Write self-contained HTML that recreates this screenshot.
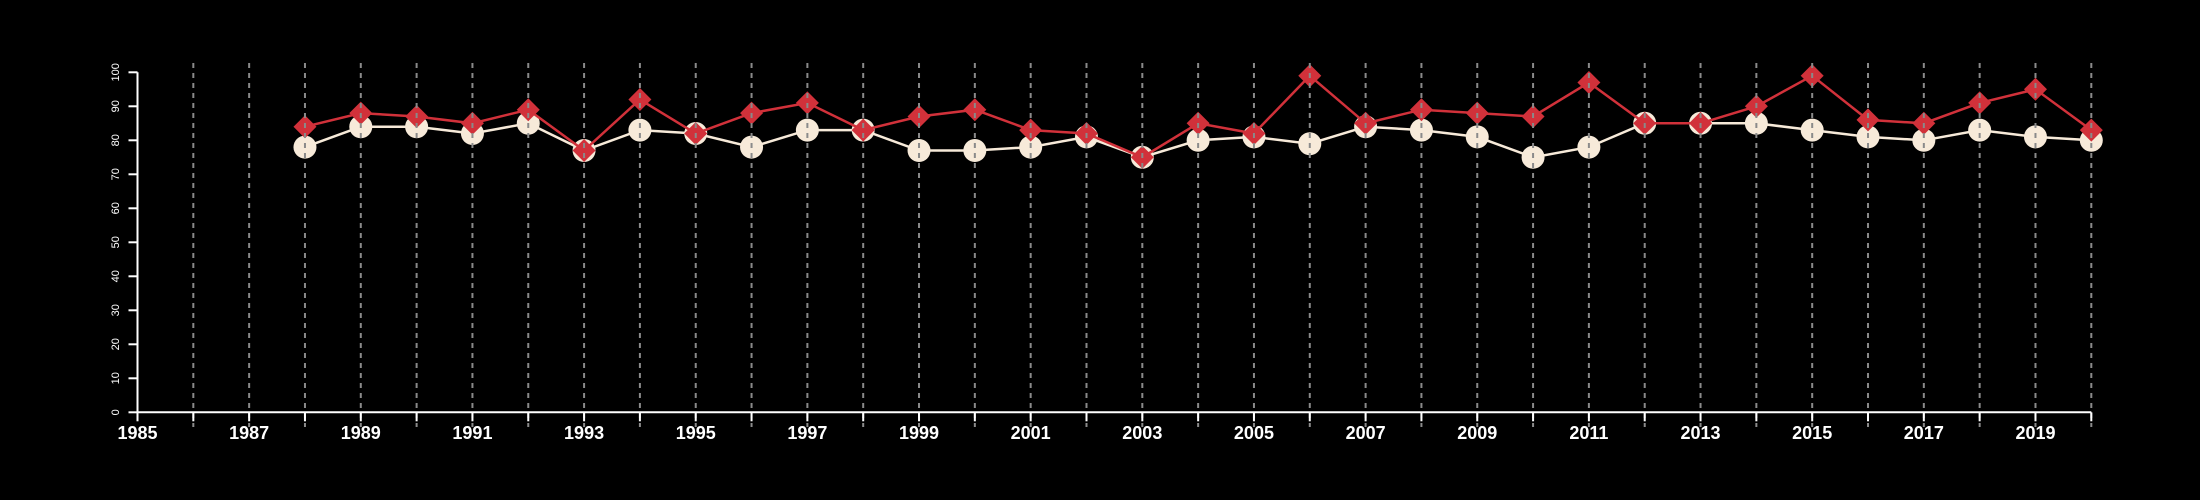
<!DOCTYPE html>
<html><head><meta charset="utf-8"><style>
html,body{margin:0;padding:0;background:#000;}
svg{display:block;font-family:"Liberation Sans",sans-serif;}
</style></head><body>
<svg id="chart" width="2200" height="500" viewBox="0 0 2200 500" xmlns="http://www.w3.org/2000/svg">
<rect width="2200" height="500" fill="#000"/>
<g id="series"></g>
<g id="grid"></g>
<g id="axes"></g>
</svg>
<script>
const years = [1988,1989,1990,1991,1992,1993,1994,1995,1996,1997,1998,1999,2000,2001,2002,2003,2004,2005,2006,2007,2008,2009,2010,2011,2012,2013,2014,2015,2016,2017,2018,2019,2020];
const whiteSeries = [78,84,84,82,85,77,83,82,78,83,83,77,77,78,81,75,80,81,79,84,83,81,75,78,85,85,85,83,81,80,83,81,80];
const redSeries = [84,88,87,85,89,77,92,82,88,91,83,87,89,83,82,75,85,82,99,85,89,88,87,97,85,85,90,99,86,85,91,95,83];
const yTicks = [0,10,20,30,40,50,60,70,80,90,100];
const xTickYears = [1985,1986,1987,1988,1989,1990,1991,1992,1993,1994,1995,1996,1997,1998,1999,2000,2001,2002,2003,2004,2005,2006,2007,2008,2009,2010,2011,2012,2013,2014,2015,2016,2017,2018,2019,2020];
const xLabels = [1985,1987,1989,1991,1993,1995,1997,1999,2001,2003,2005,2007,2009,2011,2013,2015,2017,2019];

const NS="http://www.w3.org/2000/svg";
const X0=137.5, X1=2091.3, Y0=412.3, Y1=72.3;
const xs = y => X0 + (y-1985)*(X1-X0)/35;
const ys = v => Y0 - v*(Y0-Y1)/100;
function mk(tag, attrs, parent){const e=document.createElementNS(NS,tag);for(const k in attrs)e.setAttribute(k,attrs[k]);parent.appendChild(e);return e;}
const gS=document.getElementById('series'), gG=document.getElementById('grid'), gA=document.getElementById('axes');

// white series
let pts = years.map((y,i)=>xs(y)+','+ys(whiteSeries[i])).join(' ');
let l1 = mk('polyline',{points:pts,fill:'none',stroke:'#f7ead9','stroke-width':2.5},gS);


years.forEach((y,i)=>{
  const c = mk('circle',{cx:xs(y),cy:ys(whiteSeries[i]),r:11.5,fill:'#f7ead9'},gS);
  
  
});
// red series
pts = years.map((y,i)=>xs(y)+','+ys(redSeries[i])).join(' ');
let l2 = mk('polyline',{points:pts,fill:'none',stroke:'#d1313a','stroke-width':2.5},gS);


years.forEach((y,i)=>{
  const cx=xs(y), cy=ys(redSeries[i]), d=11.5;
  const p = mk('polygon',{points:`${cx},${cy-d} ${cx+d},${cy} ${cx},${cy+d} ${cx-d},${cy}`,fill:'#d1313a'},gS);
  
  
});
// grid lines (drawn on top)
xTickYears.slice(1).forEach(y=>{
  const g = mk('line',{x1:xs(y),x2:xs(y),y1:63,y2:427,stroke:'#8a8a8a','stroke-width':2,'stroke-dasharray':'5 5'},gG);
  
  
});
// y axis
let ya = mk('line',{x1:X0,x2:X0,y1:Y1,y2:Y0,stroke:'#fff','stroke-width':2},gA);


yTicks.forEach(v=>{
  const t = mk('line',{x1:X0-9,x2:X0,y1:ys(v),y2:ys(v),stroke:'#fff','stroke-width':2},gA);
  
  
  const tx = mk('text',{x:0,y:0,fill:'#fff','font-size':11,'text-anchor':'middle',transform:`translate(119,${ys(v)}) rotate(-90)`},gA);
  tx.textContent=v;
  
  
});
// x axis
let xa = mk('line',{x1:X0,x2:X1,y1:Y0,y2:Y0,stroke:'#fff','stroke-width':2},gA);


xTickYears.forEach(y=>{
  const t = mk('line',{x1:xs(y),x2:xs(y),y1:Y0,y2:Y0+9,stroke:'#fff','stroke-width':2},gA);
  
  
});
xLabels.forEach(y=>{
  const tx = mk('text',{x:xs(y),y:439,fill:'#fff','font-size':18,'font-weight':'bold','text-anchor':'middle'},gA);
  tx.textContent=y;
  
  
});
</script>
</body></html>
